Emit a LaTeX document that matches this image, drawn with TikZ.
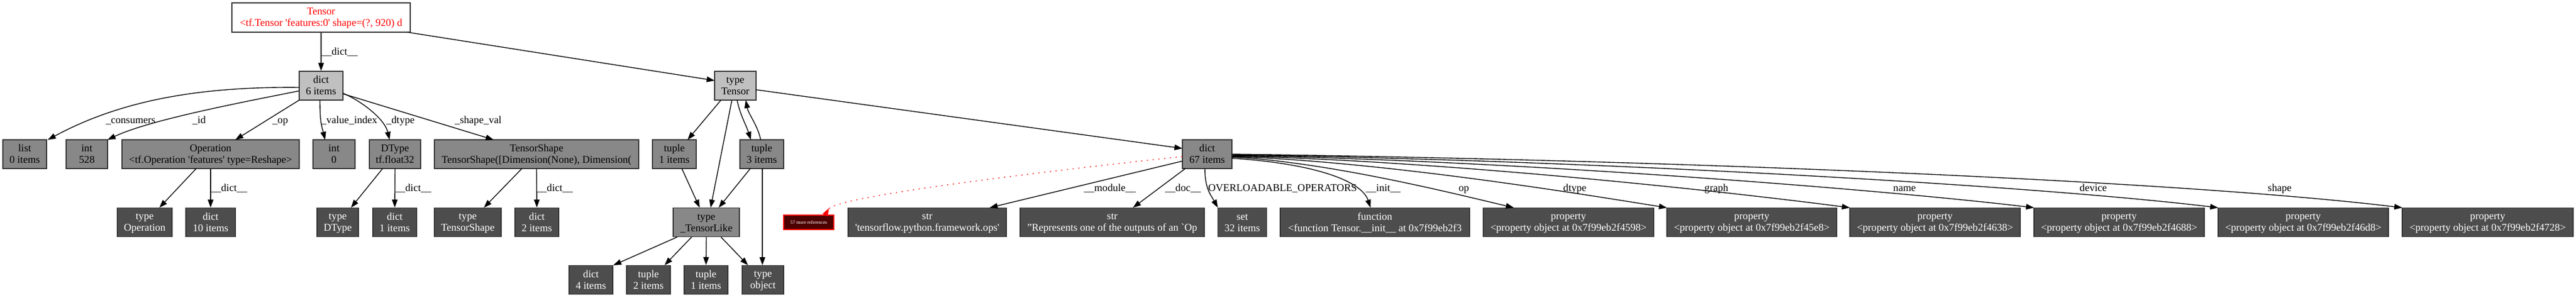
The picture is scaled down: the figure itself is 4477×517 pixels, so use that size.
\documentclass[tikz,border=0pt]{standalone}
\usepackage{fontspec}
\setmainfont{Liberation Serif}
\usetikzlibrary{arrows.meta}
\definecolor{lightg}{HTML}{C0C0C0}
\definecolor{midg}{HTML}{888888}
\definecolor{darkg}{HTML}{4D4D4D}
\definecolor{bord}{HTML}{333333}
\definecolor{maroonfill}{HTML}{4D0000}
\newcommand\twoln[2]{\rule{0pt}{10pt}#1\\#2\rule[-1.4pt]{0pt}{1.4pt}}
\begin{document}
\begin{tikzpicture}[x=0.72pt,y=-0.72pt,
  nbox/.style={rectangle, draw=bord, line width=1pt, inner sep=0pt, minimum height=36pt, align=center, font=\fontsize{13}{14.4}\selectfont},
  bw/.style={minimum width=#1*0.72pt},
  lightbox/.style={nbox, fill=lightg, text=black},
  midbox/.style={nbox, fill=midg, text=black},
  darkbox/.style={nbox, fill=darkg, text=white},
  lbl/.style={anchor=base, inner sep=0pt, font=\fontsize{13}{14.4}\selectfont},
  conn/.style={draw=black, line width=1pt, -{Triangle[length=10pt,width=7pt]}},
]
\path[use as bounding box, fill=white] (0,0) rectangle (4477,517);

% ---- nodes ----
\node[nbox, fill=white, text=red, bw=310, minimum height=51*0.72pt] (T) at (558,30.5)
  {\twoln{Tensor}{<tf.Tensor \textquotesingle features:0\textquotesingle{} shape=(?, 920) d}};

\node[lightbox, bw=76] (D6) at (558,149) {\twoln{dict}{6 items}};
\node[lightbox, bw=72] (TT) at (1278,149) {\twoln{type}{Tensor}};

\node[midbox, bw=76] (L) at (43,268) {\twoln{list}{0 items}};
\node[midbox, bw=72] (I528) at (151,268) {\twoln{int}{528}};
\node[midbox, bw=308] (OP) at (366,268) {\twoln{Operation}{<tf.Operation \textquotesingle features\textquotesingle{} type=Reshape>}};
\node[midbox, bw=73] (I0) at (580.5,268) {\twoln{int}{0}};
\node[midbox, bw=89] (DT) at (686.5,268) {\twoln{DType}{tf.float32}};
\node[midbox, bw=355] (TS) at (932.5,268) {\twoln{TensorShape}{TensorShape([Dimension(None), Dimension(}};
\node[midbox, bw=76] (TU1) at (1172,268) {\twoln{tuple}{1 items}};
\node[midbox, bw=76] (TU3) at (1324,268) {\twoln{tuple}{3 items}};
\node[midbox, bw=86] (D67) at (2098,268) {\twoln{dict}{67 items}};

\node[darkbox, bw=95] (TOP) at (251.5,386.5) {\twoln{type}{Operation}};
\node[darkbox, bw=86] (D10) at (366,386.5) {\twoln{dict}{10 items}};
\node[darkbox, bw=72] (TDT) at (587,386.5) {\twoln{type}{DType}};
\node[darkbox, bw=76] (D1) at (686,386.5) {\twoln{dict}{1 items}};
\node[darkbox, bw=116] (TTS) at (813,386.5) {\twoln{type}{TensorShape}};
\node[darkbox, bw=76] (D2) at (933,386.5) {\twoln{dict}{2 items}};
\node[midbox, bw=115] (TL) at (1227.5,386.5) {\twoln{type}{\_TensorLike}};
\node[rectangle, draw=red, line width=1pt, fill=maroonfill, text=white, inner sep=0pt,
      minimum width=87*0.72pt, minimum height=25*0.72pt, font=\fontsize{6}{7}\selectfont]
      (RED) at (1405.5,386.5) {57 more references};
\node[darkbox, bw=275] (SM) at (1611.5,386.5) {\twoln{str}{\textquotesingle tensorflow.python.framework.ops\textquotesingle}};
\node[darkbox, bw=320] (SD) at (1933,386.5) {\twoln{str}{"Represents one of the outputs of an \textasciigrave Op}};
\node[darkbox, bw=85] (SET) at (2159,386.5) {\twoln{set}{32 items}};
\node[darkbox, bw=329] (FN) at (2389.5,386.5) {\twoln{function}{<function Tensor.\_\_init\_\_ at 0x7f99eb2f3}};
\node[darkbox, bw=296] (P1) at (2726,386.5) {\twoln{property}{<property object at 0x7f99eb2f4598>}};
\node[darkbox, bw=295] (P2) at (3044.5,386.5) {\twoln{property}{<property object at 0x7f99eb2f45e8>}};
\node[darkbox, bw=296] (P3) at (3363,386.5) {\twoln{property}{<property object at 0x7f99eb2f4638>}};
\node[darkbox, bw=296] (P4) at (3683,386.5) {\twoln{property}{<property object at 0x7f99eb2f4688>}};
\node[darkbox, bw=296] (P5) at (4003,386.5) {\twoln{property}{<property object at 0x7f99eb2f46d8>}};
\node[darkbox, bw=297] (P6) at (4323.5,386.5) {\twoln{property}{<property object at 0x7f99eb2f4728>}};

\node[darkbox, bw=76] (D4) at (1027,486.5) {\twoln{dict}{4 items}};
\node[darkbox, bw=76] (TU2) at (1127,486.5) {\twoln{tuple}{2 items}};
\node[darkbox, bw=76] (TU1B) at (1227,486.5) {\twoln{tuple}{1 items}};
\node[darkbox, bw=72] (TOBJ) at (1326,486.5) {\twoln{type}{object}};

% ---- edge labels ----
\node[lbl] (lt) at (590,95) {\_\_dict\_\_};
\node[lbl] (lcons) at (227,214) {\_consumers};
\node[lbl] (lid) at (346,214) {\_id};
\node[lbl] (lop) at (487,214) {\_op};
\node[lbl] (lvi) at (607,214) {\_value\_index};
\node[lbl] (ldt) at (696,214) {\_dtype};
\node[lbl] (lsv) at (831,214) {\_shape\_val};
\node[lbl] (ld1) at (398,332) {\_\_dict\_\_};
\node[lbl] (ld2) at (718,332) {\_\_dict\_\_};
\node[lbl] (ld3) at (964,332) {\_\_dict\_\_};
\node[lbl] (lmod) at (1929,332) {\_\_module\_\_};
\node[lbl] (ldoc) at (2056,332) {\_\_doc\_\_};
\node[lbl] (lovl) at (2229,332) {OVERLOADABLE\_OPERATORS};
\node[lbl] (linit) at (2404,332) {\_\_init\_\_};
\node[lbl] (lop2) at (2544,332) {op};
\node[lbl] (ldtype) at (2737,332) {dtype};
\node[lbl] (lgraph) at (2983,332) {graph};
\node[lbl] (lname) at (3310,332) {name};
\node[lbl] (ldev) at (3638,332) {device};
\node[lbl] (lshape) at (3962,332) {shape};

% ---- edges ----
\draw[conn] (T.south) -- (D6.north);
\draw[conn] ([shift={(150,25.5)}]T.center) -- ([shift={(-36,-9)}]TT.center);

\draw[conn] ([shift={(-38,3)}]D6.center) .. controls +(-190,-2) and +(117,-63) .. ([shift={(40,-25)}]L.center);
\draw[conn] ([shift={(-38,9)}]D6.center) .. controls +(-90,18) and +(73,-35) .. ([shift={(36,-25)}]I528.center);
\draw[conn] ([shift={(-38,25)}]D6.center) -- ([shift={(43,-25)}]OP.center);
\draw[conn] ([shift={(-2,25)}]D6.center) .. controls +(0,40) and +(-6,-25) .. ([shift={(-15.5,-25)}]I0.center);
\draw[conn] ([shift={(38,13)}]D6.center) .. controls +(35,15) and +(-8,-35) .. ([shift={(-9.5,-25)}]DT.center);
\draw[conn] ([shift={(38,14)}]D6.center) -- ([shift={(-74.5,-25)}]TS.center);

\draw[conn] ([shift={(-25,25)}]OP.center) -- ([shift={(25.5,-25.5)}]TOP.center);
\draw[conn] (OP.south) -- (D10.north);
\draw[conn] ([shift={(-21.5,25)}]DT.center) -- ([shift={(23,-25.5)}]TDT.center);
\draw[conn] (DT.south) -- (D1.north);
\draw[conn] ([shift={(-25.5,25)}]TS.center) -- ([shift={(28,-25.5)}]TTS.center);
\draw[conn] (TS.south) -- (D2.north);

\draw[conn] ([shift={(-25,25)}]TT.center) -- ([shift={(23,-25)}]TU1.center);
\draw[conn] ([shift={(-6,25)}]TT.center) -- ([shift={(7.5,-25.5)}]TL.center);
\draw[conn] ([shift={(3,25)}]TT.center) .. controls +(5,25) and +(-8,-25) .. ([shift={(-19,-25)}]TU3.center);
\draw[conn] ([shift={(-2,-25)}]TU3.center) .. controls +(-5,-25) and +(5,25) .. ([shift={(18,25)}]TT.center);
\draw[conn] ([shift={(13,25)}]TU1.center) -- ([shift={(-11.5,-25.5)}]TL.center);
\draw[conn] ([shift={(-20,25)}]TU3.center) -- ([shift={(21.5,-25.5)}]TL.center);
\draw[conn] ([shift={(1,25)}]TU3.center) -- ([shift={(-1,-25.5)}]TOBJ.center);
\draw[conn] ([shift={(-50.5,25.5)}]TL.center) -- ([shift={(39,-25.5)}]D4.center);
\draw[conn] ([shift={(-25.5,25.5)}]TL.center) -- ([shift={(28,-25.5)}]TU2.center);
\draw[conn] (TL.south) -- (TU1B.north);
\draw[conn] ([shift={(25.5,25.5)}]TL.center) -- ([shift={(-26,-25.5)}]TOBJ.center);

\draw[conn] ([shift={(36,7)}]TT.center) -- ([shift={(-43,-10)}]D67.center);

\draw[red, line width=1pt, dash pattern=on 1.4pt off 5.8pt, -{Triangle[reversed,length=10pt,width=7pt]}]
  ([shift={(-43,4)}]D67.center) .. controls +(-350,38) and +(16,-29) .. ([shift={(28.5,-12.5)}]RED.center);

\draw[conn] ([shift={(-43,12)}]D67.center) -- ([shift={(108.5,-25.5)}]SM.center);
\draw[conn] ([shift={(-38,25)}]D67.center) -- ([shift={(36,-25.5)}]SD.center);
\draw[conn] ([shift={(-4,25)}]D67.center) .. controls +(0,35) and +(-12,-22) .. ([shift={(-42.5,-25.5)}]SET.center);
\draw[conn] ([shift={(43,7)}]D67.center) .. controls +(150,10) and +(-15,-45) .. ([shift={(-7.5,-25.5)}]FN.center);
\draw[conn] ([shift={(43,5)}]D67.center) .. controls +(171,9) and +(-98,-23) .. ([shift={(-95,-25.5)}]P1.center);
\draw[conn] ([shift={(43,4)}]D67.center) .. controls +(265,9) and +(-151,-24) .. ([shift={(-147.5,-25.5)}]P2.center);
\draw[conn] ([shift={(43,3)}]D67.center) .. controls +(376,9) and +(-215,-28) .. ([shift={(-148,-25.5)}]P3.center);
\draw[conn] ([shift={(43,2)}]D67.center) .. controls +(488,9) and +(-279,-33) .. ([shift={(-148,-25.5)}]P4.center);
\draw[conn] ([shift={(43,1)}]D67.center) .. controls +(600,9) and +(-343,-41) .. ([shift={(-148,-25.5)}]P5.center);
\draw[conn] ([shift={(43,0)}]D67.center) .. controls +(712,9) and +(-407,-49) .. ([shift={(-148.5,-25.5)}]P6.center);
\end{tikzpicture}
\end{document}
